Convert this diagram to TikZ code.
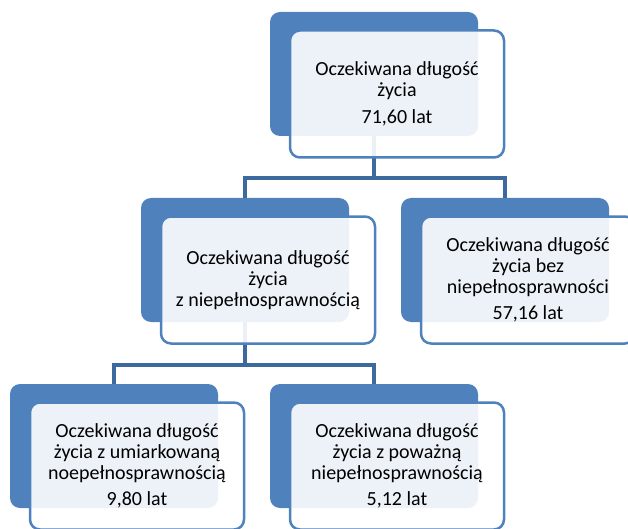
\documentclass[tikz,border=0pt]{standalone}
\usepackage{fontspec}
\setmainfont{Carlito}
\usepackage{tikz}
\usetikzlibrary{positioning}

\definecolor{niebieski}{HTML}{4F81BD}
\definecolor{linia}{HTML}{3C6A9E}

\tikzset{
  back/.style={fill=niebieski, rounded corners=10pt, minimum width=208pt, minimum height=124pt, inner sep=0pt},
  front/.style={draw=niebieski, line width=2.5pt, fill=white, fill opacity=0.9, text opacity=1,
    rounded corners=10pt, minimum width=214pt, minimum height=127pt, align=center,
    font=\fontsize{20}{20.8}\selectfont, text=black},
  conn/.style={draw=linia, line width=4pt}
}

\begin{document}
\begin{tikzpicture}[x=1pt, y=-1pt]
\useasboundingbox (0,0) rectangle (628,529);

% Węzły (tło)
\node [back] at (374,74) (n1) {};
\node [back, below of=n1, node distance=186pt, xshift=-129pt] (n3) {};
\node [back, right of=n3, node distance=260pt] (n5) {};
\node [back, below of=n3, node distance=186pt, xshift=-131pt] (n7) {};
\node [back, right of=n7, node distance=260pt] (n9) {};

% Połączenia
\draw[conn] (n1.south) -- ++(0,42) -| (n3.north);
\draw[conn] (n1.south) -- ++(0,42) -| (n5.north);
\draw[conn] (n3.south) -- ++(0,43) -| (n7.north);
\draw[conn] (n3.south) -- ++(0,43) -| (n9.north);

% Węzły (tekst)
\node [front, right of=n1, node distance=0pt, xshift=23pt, yshift=-20pt] (n2) {Oczekiwana długość\\życia\\[6pt]71,60 lat};
\node [front, right of=n3, node distance=0pt, xshift=23pt, yshift=-20pt] (n4) {Oczekiwana długość\\życia\\z niepełnosprawnością};
\node [front, right of=n5, node distance=0pt, xshift=23pt, yshift=-20pt] (n6) {Oczekiwana długość\\życia bez\\niepełnosprawności\\[5pt]57,16 lat};
\node [front, right of=n7, node distance=0pt, xshift=23pt, yshift=-20pt] (n8) {Oczekiwana długość\\życia z umiarkowaną\\noepełnosprawnością\\[5pt]9,80 lat};
\node [front, right of=n9, node distance=0pt, xshift=23pt, yshift=-20pt] (n10) {Oczekiwana długość\\życia z poważną\\niepełnosprawnością\\[5pt]5,12 lat};

\end{tikzpicture}
\end{document}
